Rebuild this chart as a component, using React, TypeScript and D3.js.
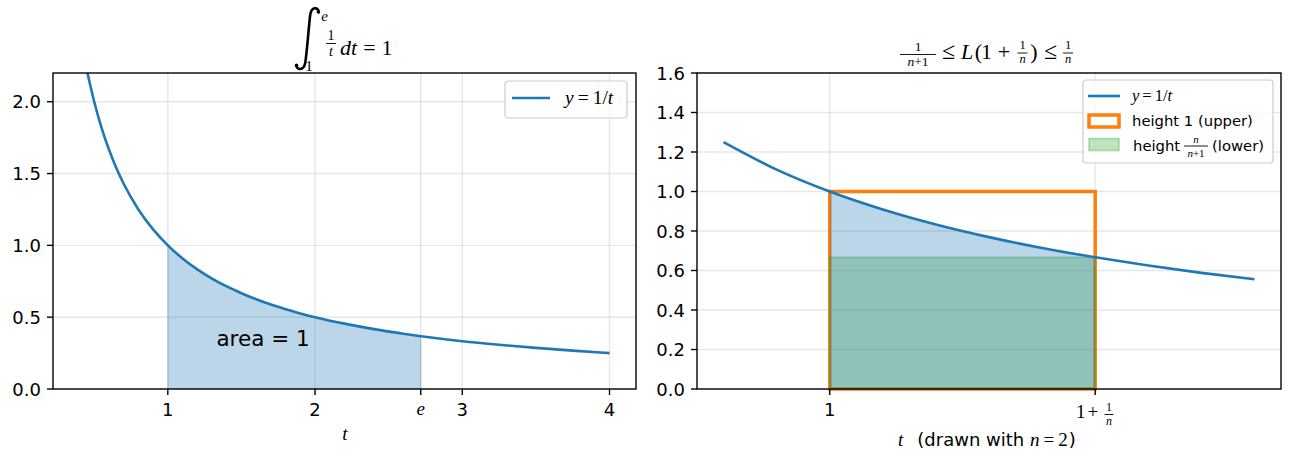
import React from 'react';
import * as d3 from 'd3';

// ---------- data ----------
const leftCurveT = [0.4, 0.45, 0.5, 0.55, 0.6, 0.65, 0.7, 0.8, 0.9, 1.0, 1.1, 1.2, 1.3, 1.4, 1.5, 1.6, 1.7, 1.8, 1.9, 2.0, 2.2, 2.4, 2.6, 2.8, 3.0, 3.25, 3.5, 3.75, 4.0];
const leftCurveY = [2.5, 2.222, 2.0, 1.818, 1.667, 1.538, 1.429, 1.25, 1.111, 1.0, 0.909, 0.833, 0.769, 0.714, 0.667, 0.625, 0.588, 0.556, 0.526, 0.5, 0.455, 0.417, 0.385, 0.357, 0.333, 0.308, 0.286, 0.267, 0.25];
const areaStartT = 1.0;
const areaEndT = 2.718;
const areaEndY = 0.368;
const leftXTicks = [1, 2, 3, 4];
const leftXTickLabels = ['1', '2', '3', '4'];
const eTick = 2.718;
const leftYTicks = [0, 0.5, 1.0, 1.5, 2.0];
const leftYTickLabels = ['0.0', '0.5', '1.0', '1.5', '2.0'];
const areaLabelT = 1.33;
const areaLabelY = 0.3;

const rightCurveT = [0.8, 0.9, 1.0, 1.1, 1.2, 1.3, 1.4, 1.5, 1.6, 1.7, 1.8];
const rightCurveY = [1.25, 1.111, 1.0, 0.909, 0.833, 0.769, 0.714, 0.667, 0.625, 0.588, 0.556];
const rectStart = 1.0;
const rectEnd = 1.5;
const upperHeight = 1.0;
const lowerHeight = 0.667;
const rightYTicks = [0, 0.2, 0.4, 0.6, 0.8, 1.0, 1.2, 1.4, 1.6];
const rightYTickLabels = ['0.0', '0.2', '0.4', '0.6', '0.8', '1.0', '1.2', '1.4', '1.6'];
const rightXTicks = [1.0, 1.5];

// ---------- styling ----------
const C0 = '#1f77b4';
const C1 = '#ff7f0e';
const C2 = '#2ca02c';
const SANS = "'DejaVu Sans', sans-serif";
const SERIF = "'Liberation Serif', 'DejaVu Serif', serif";
const TICK_FS = 18;
const GRID = '#b0b0b0';

const L = { x0: 53, x1: 636, y0: 73, y1: 389 };
const R = { x0: 697, x1: 1281, y0: 73, y1: 389 };

const lx = d3.scaleLinear().domain([0.22, 4.18]).range([L.x0, L.x1]);
const ly = d3.scaleLinear().domain([0, 2.2]).range([L.y1, L.y0]);
const rx = d3.scaleLinear().domain([0.75, 1.85]).range([R.x0, R.x1]);
const ry = d3.scaleLinear().domain([0, 1.6]).range([R.y1, R.y0]);

type Pt = [number, number];
const leftPts: Pt[] = leftCurveT.map((t, i) => [t, leftCurveY[i]]);
const rightPts: Pt[] = rightCurveT.map((t, i) => [t, rightCurveY[i]]);
const leftAreaPts: Pt[] = [...leftPts.filter(p => p[0] >= areaStartT && p[0] <= areaEndT), [areaEndT, areaEndY]];
const rightAreaPts: Pt[] = rightPts.filter(p => p[0] >= rectStart && p[0] <= rectEnd);

const Frac = ({ cx, numY, barY, denY, num, den, w, fs }: any) => (
  <g fontFamily={SERIF} fontSize={fs} textAnchor="middle">
    <text x={cx} y={numY}>{num}</text>
    <line x1={cx - w / 2} x2={cx + w / 2} y1={barY} y2={barY} stroke="#000" strokeWidth={0.9} />
    <text x={cx} y={denY}>{den}</text>
  </g>
);

const NPlus1 = () => (
  <>
    <tspan fontStyle="italic">n</tspan>
    <tspan>+1</tspan>
  </>
);

function LeftAxes() {
  const line = d3.line<Pt>().x(d => lx(d[0])).y(d => ly(d[1])).curve(d3.curveMonotoneX);
  const area = d3.area<Pt>().x(d => lx(d[0])).y0(ly(0)).y1(d => ly(d[1])).curve(d3.curveMonotoneX);
  const gridX = [...leftXTicks, eTick];
  return (
    <g>
      <defs>
        <clipPath id="clipL"><rect x={L.x0} y={L.y0} width={L.x1 - L.x0} height={L.y1 - L.y0} /></clipPath>
      </defs>
      {gridX.map((t, i) => (
        <line key={'gx' + i} x1={lx(t)} x2={lx(t)} y1={L.y0} y2={L.y1} stroke={GRID} strokeOpacity={0.3} strokeWidth={1.39} />
      ))}
      {leftYTicks.map((v, i) => (
        <line key={'gy' + i} x1={L.x0} x2={L.x1} y1={ly(v)} y2={ly(v)} stroke={GRID} strokeOpacity={0.3} strokeWidth={1.39} />
      ))}
      <g clipPath="url(#clipL)">
        <path d={area(leftAreaPts) || ''} fill={C0} fillOpacity={0.3} stroke={C0} strokeOpacity={0.3} strokeWidth={1} />
        <path d={line(leftPts) || ''} fill="none" stroke={C0} strokeWidth={2.6} />
      </g>
      <text x={lx(areaLabelT)} y={ly(areaLabelY)} fontFamily={SANS} fontSize={21.5} fill="#000">area = 1</text>
      <rect x={L.x0} y={L.y0} width={L.x1 - L.x0} height={L.y1 - L.y0} fill="none" stroke="#000" strokeWidth={1.39} />
      {/* x ticks */}
      {[...leftXTicks, eTick].map((t, i) => (
        <line key={'tx' + i} x1={lx(t)} x2={lx(t)} y1={L.y1} y2={L.y1 + 6} stroke="#000" strokeWidth={1.39} />
      ))}
      {leftXTicks.map((t, i) => (
        <text key={'lx' + i} x={lx(t)} y={416} textAnchor="middle" fontFamily={SANS} fontSize={TICK_FS}>{leftXTickLabels[i]}</text>
      ))}
      <text x={lx(eTick)} y={415} textAnchor="middle" fontFamily={SERIF} fontStyle="italic" fontSize={19}>e</text>
      {/* y ticks */}
      {leftYTicks.map((v, i) => (
        <g key={'ty' + i}>
          <line x1={L.x0 - 6} x2={L.x0} y1={ly(v)} y2={ly(v)} stroke="#000" strokeWidth={1.39} />
          <text x={L.x0 - 12} y={ly(v) + 6.5} textAnchor="end" fontFamily={SANS} fontSize={TICK_FS}>{leftYTickLabels[i]}</text>
        </g>
      ))}
      {/* x label */}
      <text x={345} y={440} textAnchor="middle" fontFamily={SERIF} fontStyle="italic" fontSize={19}>t</text>
      {/* legend */}
      <rect x={505} y={81} width={122} height={37} rx={3.5} fill="#fff" fillOpacity={0.8} stroke="#cccccc" strokeWidth={1.2} />
      <line x1={512} x2={550} y1={98} y2={98} stroke={C0} strokeWidth={2.6} />
      <text x={565} y={104} fontFamily={SERIF} fontSize={19.5}>
        <tspan fontStyle="italic">y</tspan>
        <tspan dx={4}>=</tspan>
        <tspan dx={4}>1/</tspan>
        <tspan fontStyle="italic">t</tspan>
      </text>
      {/* title: integral */}
      <path d="M 318.8 12 C 317.8 7, 311.5 6, 310.2 15 C 308.9 25, 306.8 54, 305.2 63 C 303.8 70.5, 297.5 70.5, 296.2 65.5" fill="none" stroke="#000" strokeWidth={2.6} strokeLinecap="round" />
      <circle cx={318.4} cy={12} r={1.8} fill="#000" />
      <circle cx={296.5} cy={65.2} r={1.8} fill="#000" />
      <text x={324.5} y={21} textAnchor="middle" fontFamily={SERIF} fontStyle="italic" fontSize={15}>e</text>
      <text x={309} y={71} textAnchor="middle" fontFamily={SERIF} fontSize={15}>1</text>
      <g fontFamily={SERIF} fontSize={14} textAnchor="middle">
        <text x={331} y={39.5}>1</text>
        <line x1={326} x2={336} y1={43.5} y2={43.5} stroke="#000" strokeWidth={0.9} />
        <text x={331} y={56} fontStyle="italic">t</text>
      </g>
      <text x={340} y={55} fontFamily={SERIF} fontSize={22}>
        <tspan fontStyle="italic">dt</tspan>
        <tspan dx={6}>=</tspan>
        <tspan dx={6}>1</tspan>
      </text>
    </g>
  );
}

function RightAxes() {
  const line = d3.line<Pt>().x(d => rx(d[0])).y(d => ry(d[1])).curve(d3.curveMonotoneX);
  const area = d3.area<Pt>().x(d => rx(d[0])).y0(ry(0)).y1(d => ry(d[1])).curve(d3.curveMonotoneX);
  return (
    <g>
      {rightXTicks.map((t, i) => (
        <line key={'gx' + i} x1={rx(t)} x2={rx(t)} y1={R.y0} y2={R.y1} stroke={GRID} strokeOpacity={0.3} strokeWidth={1.39} />
      ))}
      {rightYTicks.map((v, i) => (
        <line key={'gy' + i} x1={R.x0} x2={R.x1} y1={ry(v)} y2={ry(v)} stroke={GRID} strokeOpacity={0.3} strokeWidth={1.39} />
      ))}
      {/* upper rectangle */}
      <rect x={rx(rectStart)} y={ry(upperHeight)} width={rx(rectEnd) - rx(rectStart)} height={ry(0) - ry(upperHeight)} fill="none" stroke={C1} strokeWidth={3.5} />
      {/* lower rectangle */}
      <rect x={rx(rectStart)} y={ry(lowerHeight)} width={rx(rectEnd) - rx(rectStart)} height={ry(0) - ry(lowerHeight)} fill={C2} fillOpacity={0.3} stroke={C2} strokeOpacity={0.3} strokeWidth={1.74} />
      {/* fill under curve */}
      <path d={area(rightAreaPts) || ''} fill={C0} fillOpacity={0.3} />
      <path d={line(rightPts) || ''} fill="none" stroke={C0} strokeWidth={2.6} />
      <rect x={R.x0} y={R.y0} width={R.x1 - R.x0} height={R.y1 - R.y0} fill="none" stroke="#000" strokeWidth={1.39} />
      {rightXTicks.map((t, i) => (
        <line key={'tx' + i} x1={rx(t)} x2={rx(t)} y1={R.y1} y2={R.y1 + 6} stroke="#000" strokeWidth={1.39} />
      ))}
      <text x={rx(rightXTicks[0])} y={416} textAnchor="middle" fontFamily={SANS} fontSize={TICK_FS}>1</text>
      <text x={1076} y={418} fontFamily={SERIF} fontSize={19}>
        <tspan>1</tspan>
        <tspan dx={2}>+</tspan>
      </text>
      <Frac cx={1109} numY={410.5} barY={414.5} denY={425} num="1" den={<tspan fontStyle="italic">n</tspan>} w={9} fs={12} />
      {rightYTicks.map((v, i) => (
        <g key={'ty' + i}>
          <line x1={R.x0 - 6} x2={R.x0} y1={ry(v)} y2={ry(v)} stroke="#000" strokeWidth={1.39} />
          <text x={R.x0 - 12} y={ry(v) + 6.5} textAnchor="end" fontFamily={SANS} fontSize={TICK_FS}>{rightYTickLabels[i]}</text>
        </g>
      ))}
      {/* x label */}
      <text x={898} y={446} fontFamily={SANS} fontSize={TICK_FS}>
        <tspan fontFamily={SERIF} fontStyle="italic" fontSize={19}>t</tspan>
        <tspan dx={14}>(drawn with </tspan>
        <tspan fontFamily={SERIF} fontStyle="italic" fontSize={19}>n</tspan>
        <tspan fontFamily={SERIF} fontSize={19} dx={4}>=</tspan>
        <tspan fontFamily={SERIF} fontSize={19} dx={4}>2</tspan>
        <tspan dx={1}>)</tspan>
      </text>
      {/* legend */}
      <rect x={1083} y={80} width={190} height={83} rx={3.5} fill="#fff" fillOpacity={0.8} stroke="#cccccc" strokeWidth={1.2} />
      <line x1={1088} x2={1120} y1={96} y2={96} stroke={C0} strokeWidth={2.6} />
      <text x={1132} y={101} fontFamily={SERIF} fontSize={16.5}>
        <tspan fontStyle="italic">y</tspan>
        <tspan dx={3}>=</tspan>
        <tspan dx={3}>1/</tspan>
        <tspan fontStyle="italic">t</tspan>
      </text>
      <rect x={1089} y={115} width={30} height={12} fill="none" stroke={C1} strokeWidth={3.5} />
      <text x={1132} y={126} fontFamily={SANS} fontSize={14.8}>height 1 (upper)</text>
      <rect x={1089} y={138.5} width={30} height={12} fill={C2} fillOpacity={0.3} stroke={C2} strokeOpacity={0.3} strokeWidth={1.74} />
      <text x={1133} y={151} fontFamily={SANS} fontSize={14.8}>height</text>
      <Frac cx={1196} numY={142.5} barY={146} denY={157} num={<tspan fontStyle="italic">n</tspan>} den={<NPlus1 />} w={24} fs={11} />
      <text x={1212} y={151} fontFamily={SANS} fontSize={14.8}>(lower)</text>
      {/* title */}
      <Frac cx={918} numY={50.5} barY={54.5} denY={65.5} num="1" den={<NPlus1 />} w={36} fs={13.5} />
      <g fontFamily={SERIF} fontSize={22} textAnchor="middle">
        <text x={948.5} y={59} fontSize={24}>≤</text>
        <text x={967} y={59} fontStyle="italic">L</text>
        <text x={978.5} y={59}>(</text>
        <text x={986.5} y={59}>1</text>
        <text x={1004} y={59}>+</text>
        <text x={1034} y={59}>)</text>
        <text x={1050.5} y={59} fontSize={24}>≤</text>
      </g>
      <Frac cx={1022.5} numY={49} barY={53} denY={63} num="1" den={<tspan fontStyle="italic">n</tspan>} w={10} fs={12.5} />
      <Frac cx={1068} numY={49} barY={53} denY={63} num="1" den={<tspan fontStyle="italic">n</tspan>} w={10} fs={12.5} />
    </g>
  );
}

export default function App() {
  return (
    <svg width={1292} height={464} style={{ position: 'absolute', left: 0, top: 0, background: '#fff' }}>
      <rect x={0} y={0} width={1292} height={464} fill="#fff" />
      <LeftAxes />
      <RightAxes />
    </svg>
  );
}
